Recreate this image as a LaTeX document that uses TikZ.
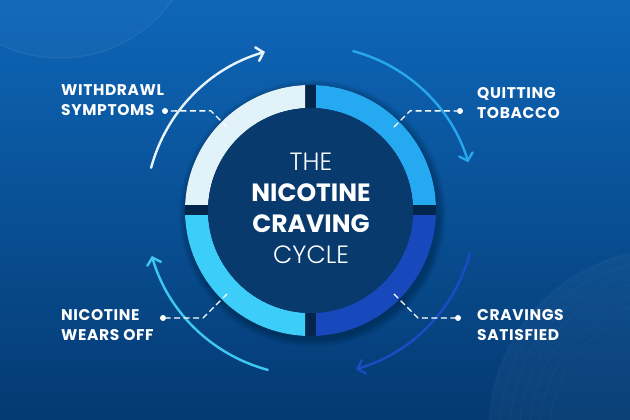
\documentclass[tikz,border=0pt]{standalone}
\usepackage{fontspec}
\setmainfont{Poppins}
\newfontfamily\thinfont{Poppins}[UprightFont=* Light]
\newfontfamily\stepfont{Poppins}[LetterSpace=4]
\usepackage{tikz}
\usetikzlibrary{calc,positioning,arrows.meta,backgrounds}
\definecolor{bgtop}{HTML}{0E66B8}
\definecolor{bgbottom}{HTML}{043A72}
\definecolor{hubcolor}{HTML}{083A6E}
\definecolor{gapcolor}{HTML}{03264C}
\definecolor{segwithdraw}{HTML}{E1F2F9}
\definecolor{segquit}{HTML}{25AAF2}
\definecolor{segcrave}{HTML}{1748BC}
\definecolor{segwear}{HTML}{3DCDF9}
\definecolor{arcwithdrawcol}{HTML}{E8F4FB}
\definecolor{arcquitcol}{HTML}{27A7EE}
\definecolor{arccravecol}{HTML}{1B4CC4}
\definecolor{arcwearcol}{HTML}{3EC9F5}
\newcommand{\ringouter}{125.5}
\newcommand{\ringinner}{102.5}
\newcommand{\ringgap}{5.5}
\newcommand{\arcrad}{165}

\tikzset{
  cyclearrow/.style={line width=2.4pt, line cap=round, -{Straight Barb[length=6.5pt,width=14pt,line cap=round]}},
  leader/.style={white, line width=1.4pt, dash pattern=on 6pt off 3.5pt},
  leaderdot/.style={circle, fill=white, inner sep=0pt, minimum size=6pt},
  steptext/.style={text=white, font=\stepfont\bfseries\fontsize{15.5}{20}\selectfont, align=left, inner sep=0pt, anchor=north west},
  titletext/.style={text=white, font=\bfseries\fontsize{25}{31}\selectfont, align=center, inner sep=0pt},
}

\begin{document}
\begin{tikzpicture}[x=1pt,y=1pt]
\useasboundingbox (0,0) rectangle (630,420);
\fill[top color=bgtop, bottom color=bgbottom] (0,0) rectangle (630,420);
\begin{scope}
\clip (0,0) rectangle (630,420);
\fill[white, opacity=0.03] (60,500) circle (138);
\draw[white, opacity=0.07, line width=1pt] (60,500) circle (138);
\fill[white, opacity=0.03] (670,-10) circle (182);
\foreach \r in {120,130,...,180}
  \draw[white, opacity=0.04, line width=0.6pt] (670,-10) circle (\r);
\end{scope}
\coordinate (C) at (310.5,209.5);
%shadow
\foreach \r in {1,...,8}
  \fill[black, opacity=0.03] ($(C)+(2,-3)$) circle (\ringouter+\r);
\fill[gapcolor] (C) circle (\ringouter);
%ring
\foreach \sx/\sy/\col in {-1/1/segwithdraw, 1/1/segquit, 1/-1/segcrave, -1/-1/segwear}{
  \begin{scope}
  \clip ($(C)+(\sx*\ringgap,\sy*\ringgap)$) rectangle ($(C)+(\sx*130,\sy*130)$);
  \fill[\col, even odd rule] (C) circle (\ringouter) (C) circle (\ringinner);
  \end{scope}
}
\fill[hubcolor] (C) circle (\ringinner);
\node[titletext] (title) at (311,212) {{\mdseries\thinfont THE}\\NICOTINE\\CRAVING\\{\mdseries\thinfont CYCLE}};
%arrows
\coordinate (arcwithdraw) at ($(C)+(165:\arcrad)$);
\coordinate (arcquit) at ($(C)+(75:\arcrad)$);
\coordinate (arccrave) at ($(C)+(-15:\arcrad)$);
\coordinate (arcwear) at ($(C)+(255:\arcrad)$);
\draw[cyclearrow, arcwithdrawcol] (arcwithdraw) arc[start angle=165, end angle=106, radius=\arcrad];
\draw[cyclearrow, arcquitcol] (arcquit) arc[start angle=75, end angle=17, radius=\arcrad];
\draw[cyclearrow, arccravecol] (arccrave) arc[start angle=-15, end angle=-74, radius=\arcrad];
\draw[cyclearrow, arcwearcol] (arcwear) arc[start angle=255, end angle=196, radius=\arcrad];
%leaders
\node[leaderdot] (dotwithdraw) at (165,309) {};
\node[leaderdot] (dotquit) at (460,309) {};
\node[leaderdot] (dotcrave) at (458,102) {};
\node[leaderdot] (dotwear) at (163,102) {};
\coordinate (inwithdraw) at ($(C)+(135:118)$);
\coordinate (inquit) at ($(C)+(45:118)$);
\coordinate (incrave) at ($(C)+(-45:118)$);
\coordinate (inwear) at ($(C)+(225:118)$);
\coordinate (bendwithdraw) at ($(C)+(135:141)$);
\coordinate (bendquit) at ($(C)+(45:141)$);
\coordinate (bendcrave) at ($(C)+(-45:152)$);
\coordinate (bendwear) at ($(C)+(225:152)$);
\draw[leader] (inwithdraw) -- (bendwithdraw) -- (dotwithdraw);
\draw[leader] (inquit) -- (bendquit) -- (dotquit);
\draw[leader] (incrave) -- (bendcrave) -- (dotcrave);
\draw[leader] (inwear) -- (bendwear) -- (dotwear);
%labels
\node[steptext] (withdraw) at (61,336) {WITHDRAWL\\SYMPTOMS};
\node[steptext] (quit) at (477,333) {QUITTING\\TOBACCO};
\node[steptext] (crave) at (477,111) {CRAVINGS\\SATISFIED};
\node[steptext] (wear) at (61,111) {NICOTINE\\WEARS OFF};
\end{tikzpicture}
\end{document}
